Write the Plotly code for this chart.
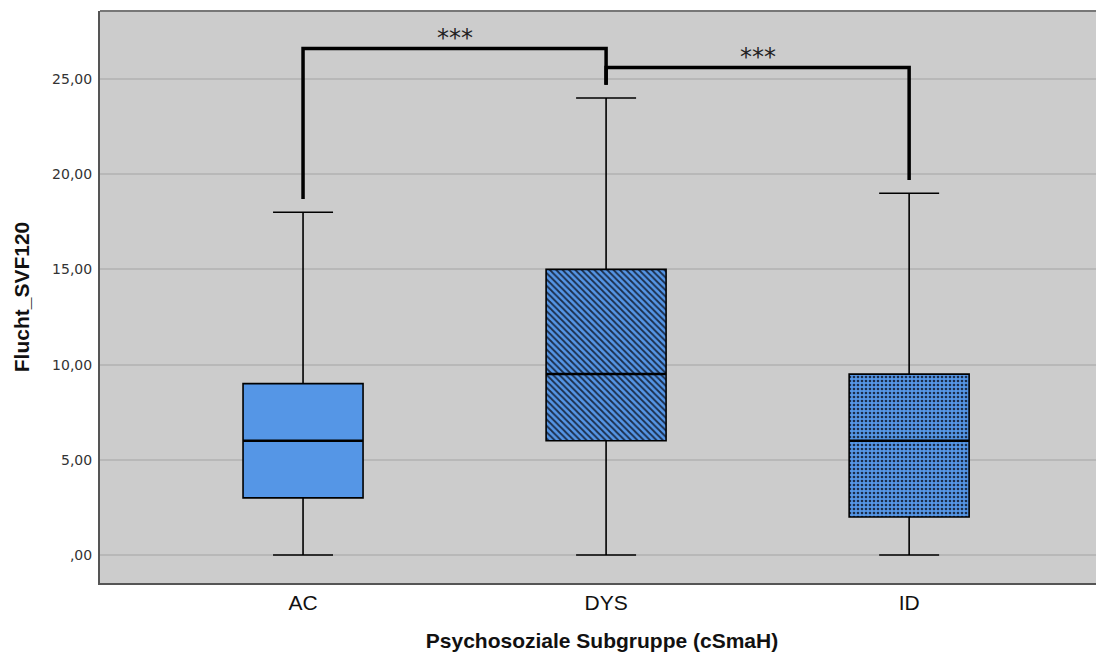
import plotly.graph_objects as go

categories = ["AC", "DYS", "ID"]
lower_whisker = [0, 0, 0]
q1 = [3, 6, 2]
median = [6, 9.5, 6]
q3 = [9, 15, 9.5]
upper_whisker = [18, 24, 19]
patterns = ["", "\\", "."]

# significance brackets
bracket_left = [0, 1]
bracket_right = [1, 2]
bracket_level = [26.6, 25.6]
bracket_left_end = [18.7, 24.7]
bracket_right_end = [24.7, 19.7]
bracket_label = ["***", "***"]

ytick_vals = [0, 5, 10, 15, 20, 25]
ytick_text = [",00", "5,00", "10,00", "15,00", "20,00", "25,00"]

xpos = list(range(len(categories)))
fill_blue = "#5596E6"
bg = "#CCCCCC"
box_w = 0.396

fig = go.Figure()

# box fills (with patterns)
fig.add_trace(go.Bar(
    x=xpos, y=[b - a for a, b in zip(q1, q3)], base=q1, width=box_w,
    marker=dict(color=fill_blue, line=dict(width=0),
                pattern=dict(shape=patterns, size=[5, 4.5, 4], solidity=[0.3, 0.4, 0.35],
                             fgcolor="#1b2d4a", bgcolor=fill_blue, fillmode="replace")),
    showlegend=False, hoverinfo="skip"))

# box outlines and whiskers
for i in xpos:
    fig.add_trace(go.Box(
        x=[xpos[i]], q1=[q1[i]], median=[median[i]], q3=[q3[i]],
        lowerfence=[lower_whisker[i]], upperfence=[upper_whisker[i]],
        width=box_w, whiskerwidth=0.5, fillcolor="rgba(0,0,0,0)",
        line=dict(color="black", width=1.6), showlegend=False, boxpoints=False))

# median emphasised
for i in xpos:
    fig.add_trace(go.Scatter(x=[xpos[i] - box_w / 2, xpos[i] + box_w / 2], y=[median[i], median[i]],
                             mode="lines", line=dict(color="black", width=2.5),
                             showlegend=False, hoverinfo="skip"))

# significance brackets
for l, r, lev, le, re_, lab in zip(bracket_left, bracket_right, bracket_level,
                                    bracket_left_end, bracket_right_end, bracket_label):
    fig.add_trace(go.Scatter(x=[xpos[l], xpos[l], xpos[r], xpos[r]], y=[le, lev, lev, re_],
                             mode="lines", line=dict(color="black", width=3.5),
                             showlegend=False, hoverinfo="skip"))
    fig.add_annotation(x=(xpos[l] + xpos[r]) / 2, y=lev, text=lab, showarrow=False,
                       yanchor="bottom", yshift=-5,
                       font=dict(family="DejaVu Sans", size=24, color="#222"))

fig.update_layout(
    width=1096, height=647,
    margin=dict(l=92, r=0, t=3, b=72),
    plot_bgcolor=bg, paper_bgcolor="white",
    bargap=0,
    xaxis=dict(range=[-0.67, 2.643], tickvals=xpos, ticktext=categories,
               showgrid=False, zeroline=False, showline=True, linecolor="#555", linewidth=2,
               ticks="", ticklabelstandoff=0, automargin=False,
               tickfont=dict(family="Liberation Sans, Arial", size=21, color="#111"),
               title=dict(text="<b>Psychosoziale Subgruppe (cSmaH)</b>", standoff=20,
                          font=dict(family="Liberation Sans, Arial", size=21, color="#111"))),
    yaxis=dict(range=[-1.47, 28.57], tickvals=ytick_vals, ticktext=ytick_text,
               showgrid=True, gridcolor="#B8B8B8", gridwidth=1.5, zeroline=False,
               showline=True, linecolor="#555", linewidth=2, ticks="", automargin=False,
               ticklabelstandoff=3,
               tickfont=dict(family="DejaVu Sans", size=14, color="#333"),
               title=dict(text="<b>Flucht_SVF120</b>", standoff=17,
                          font=dict(family="Liberation Sans, Arial", size=21, color="#111"))),
)
fig.add_shape(type="line", xref="paper", yref="paper", x0=0, x1=1, y0=1, y1=1,
              line=dict(color="#777", width=2))

fig.write_html("out.html")
